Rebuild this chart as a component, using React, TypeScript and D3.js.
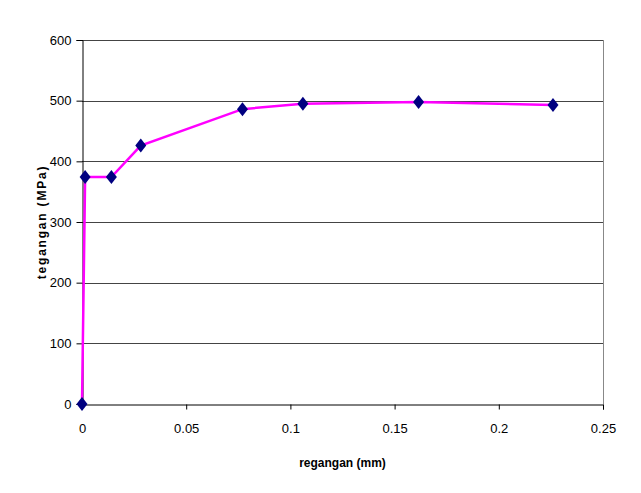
import React, { useEffect, useRef } from "react";
import * as d3 from "d3";

// regangan (mm) vs tegangan (MPa)
const strain = [0, 0.0015, 0.0141, 0.0282, 0.077, 0.106, 0.1615, 0.226];
const stress = [0, 374, 374, 426, 486, 495, 498, 493];
const xTicks = [0, 0.05, 0.1, 0.15, 0.2, 0.25];
const yTicks = [0, 100, 200, 300, 400, 500, 600];

const W = 641;
const H = 493;
const margin = { left: 82, right: 38, top: 40, bottom: 89 };

const App = () => {
  const svgRef = useRef<SVGSVGElement>(null);

  useEffect(() => {
    if (!svgRef.current) return;
    const svg = d3.select(svgRef.current);
    svg.selectAll("*").remove();

    const x = d3
      .scaleLinear()
      .domain([0, 0.25])
      .range([margin.left, W - margin.right]);
    const y = d3
      .scaleLinear()
      .domain([0, 600])
      .range([H - margin.bottom, margin.top]);

    const font = "Arial, 'Liberation Sans', sans-serif";

    // gridlines
    svg
      .append("g")
      .selectAll("line")
      .data(yTicks.filter((d) => d > 0))
      .join("line")
      .attr("x1", x(0))
      .attr("x2", x(0.25))
      .attr("y1", (d) => Math.round(y(d)) + 0.5)
      .attr("y2", (d) => Math.round(y(d)) + 0.5)
      .attr("stroke", "#444")
      .attr("stroke-width", 1);

    // right border
    svg
      .append("line")
      .attr("x1", Math.round(x(0.25)) + 0.5)
      .attr("x2", Math.round(x(0.25)) + 0.5)
      .attr("y1", y(600))
      .attr("y2", y(0))
      .attr("stroke", "#888");

    // y axis
    const yAxis = svg
      .append("g")
      .attr("transform", `translate(${Math.round(x(0)) + 0.5},0)`)
      .call(
        d3
          .axisLeft(y)
          .tickValues(yTicks)
          .tickSize(6)
          .tickPadding(5)
          .tickFormat((d) => String(d))
      );
    yAxis.select(".domain").attr("stroke", "#000");
    yAxis.selectAll(".tick line").attr("stroke", "#000");
    yAxis
      .selectAll("text")
      .attr("font-family", font)
      .attr("font-size", 13)
      .attr("fill", "#000");

    // x axis
    const xAxis = svg
      .append("g")
      .attr("transform", `translate(0,${Math.round(y(0)) + 0.5})`)
      .call(
        d3
          .axisBottom(x)
          .tickValues(xTicks)
          .tickSize(5)
          .tickPadding(14)
          .tickFormat((d) => String(d))
      );
    xAxis.select(".domain").attr("stroke", "#000");
    xAxis.selectAll(".tick line").attr("stroke", "#000");
    xAxis
      .selectAll("text")
      .attr("font-family", font)
      .attr("font-size", 13)
      .attr("fill", "#000");

    const pts = strain.map((s, i) => [s, stress[i]] as [number, number]);

    // line
    svg
      .append("path")
      .datum(pts)
      .attr("fill", "none")
      .attr("stroke", "#ff00ff")
      .attr("stroke-width", 2.5)
      .attr(
        "d",
        d3
          .line<[number, number]>()
          .x((d) => x(d[0]))
          .y((d) => y(d[1]))
      );

    // diamond markers
    svg
      .append("g")
      .selectAll("path")
      .data(pts)
      .join("path")
      .attr("transform", (d) => `translate(${x(d[0])},${y(d[1])})`)
      .attr("d", "M0,-7L5.5,0L0,7L-5.5,0Z")
      .attr("fill", "#000080");

    // axis titles
    svg
      .append("text")
      .attr("x", (x(0) + x(0.25)) / 2)
      .attr("y", 467)
      .attr("text-anchor", "middle")
      .attr("font-family", font)
      .attr("font-size", 12)
      .attr("font-weight", "bold")
      .text("regangan (mm)");

    svg
      .append("text")
      .attr("transform", `translate(46,${(y(0) + y(600)) / 2}) rotate(-90)`)
      .attr("text-anchor", "middle")
      .attr("font-family", font)
      .attr("font-size", 12)
      .attr("font-weight", "bold")
      .attr("letter-spacing", 1.8)
      .text("tegangan (MPa)");
  }, []);

  return (
    <svg
      ref={svgRef}
      width={W}
      height={H}
      style={{ display: "block", position: "absolute", left: 0, top: 0, background: "#fff" }}
    />
  );
};

export default App;
